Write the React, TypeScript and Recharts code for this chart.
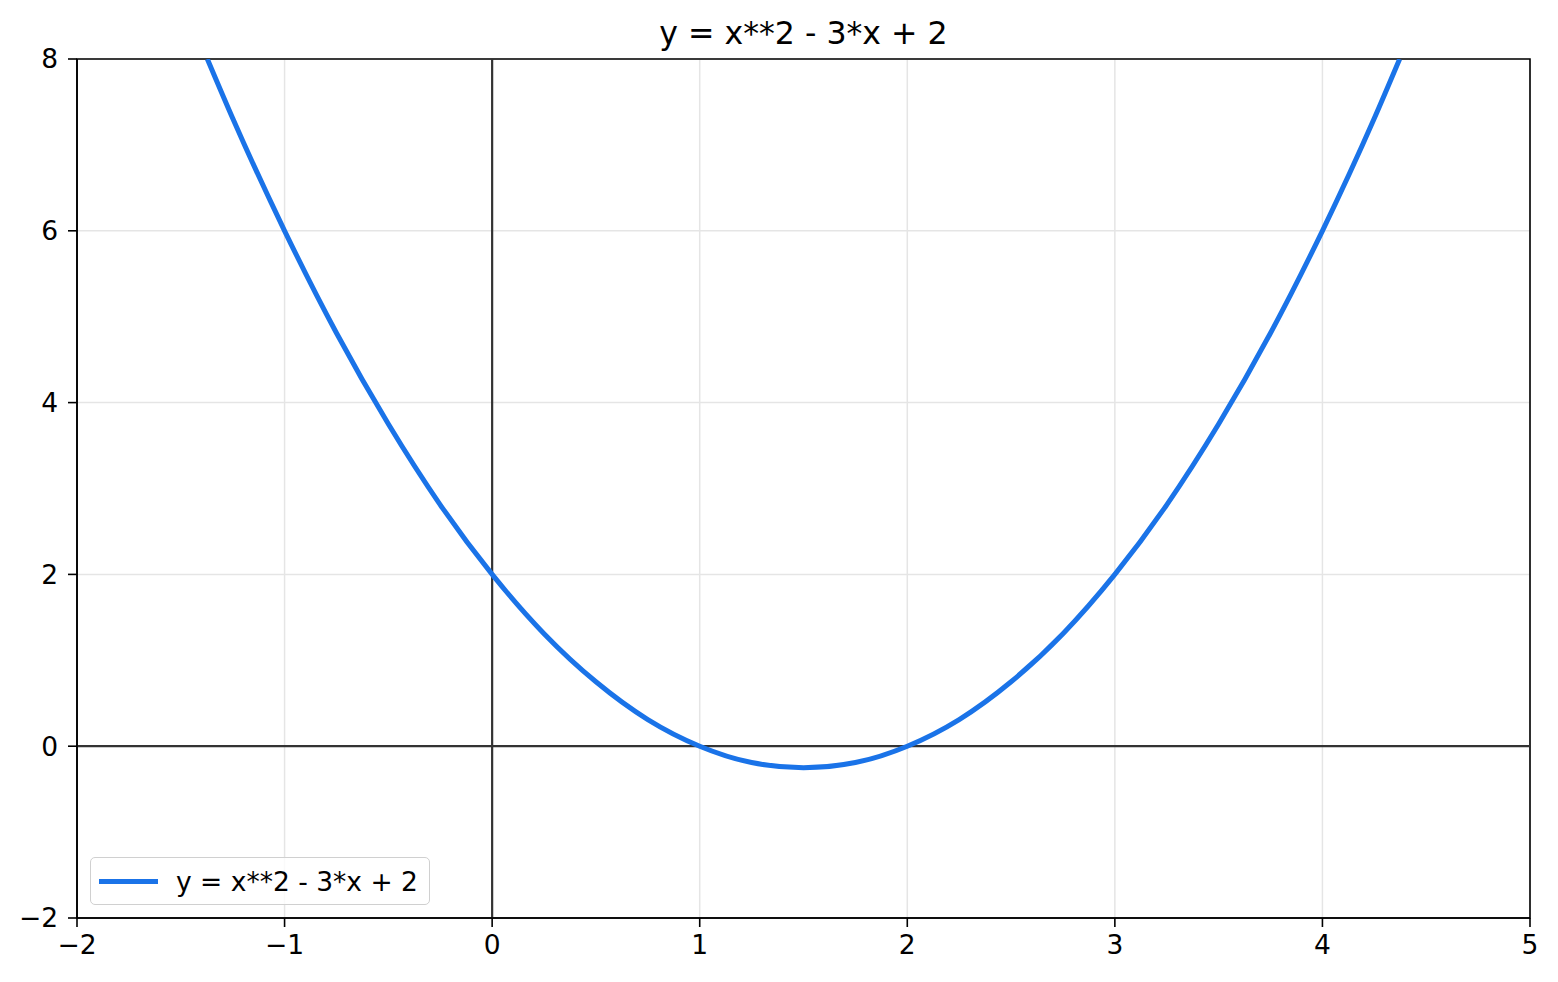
import {
  CartesianGrid,
  Legend,
  Line,
  LineChart,
  ReferenceArea,
  ReferenceLine,
  XAxis,
  YAxis,
} from "recharts";

const TITLE = "y = x**2 - 3*x + 2";

// points
const xs = [-1.372, -1.25, -1, -0.75, -0.5, -0.25, 0, 0.25, 0.5, 0.75, 1, 1.25, 1.5, 1.75, 2, 2.25, 2.5, 2.75, 3, 3.25, 3.5, 3.75, 4, 4.25, 4.372];
const ys = [8, 7.31, 6, 4.81, 3.75, 2.81, 2, 1.31, 0.75, 0.31, 0, -0.19, -0.25, -0.19, 0, 0.31, 0.75, 1.31, 2, 2.81, 3.75, 4.81, 6, 7.31, 8];

const xTicks = [-2, -1, 0, 1, 2, 3, 4, 5];
const yTicks = [-2, 0, 2, 4, 6, 8];

const data = xs.map((x, i) => ({ x, y: ys[i] }));

const FONT = "'DejaVu Sans', sans-serif";
const fmt = (v: number) => String(v).replace("-", "\u2212");

function LegendBox() {
  return (
    <div
      style={{
        width: 338,
        height: 46,
        border: "1.5px solid #d0d0d0",
        borderRadius: 5,
        background: "rgba(255,255,255,0.8)",
        display: "flex",
        alignItems: "center",
        fontFamily: FONT,
        fontSize: 26.5,
        color: "#000",
        boxSizing: "content-box",
      }}
    >
      <div style={{ width: 59, height: 5, background: "#1a73e8", marginLeft: 8, marginRight: 18 }} />
      <span>{TITLE}</span>
    </div>
  );
}

export default function App() {
  return (
    <div style={{ position: "relative", width: 1558, height: 982, background: "#fff" }}>
      <style>{`body{margin:0}`}</style>
      <div
        style={{
          position: "absolute",
          left: 77,
          width: 1453,
          top: 14,
          textAlign: "center",
          fontFamily: FONT,
          fontSize: 31.6,
          lineHeight: "38px",
          color: "#000",
        }}
      >
        {TITLE}
      </div>
      <LineChart width={1558} height={982} data={data} margin={{ top: 59, right: 28, bottom: 24, left: 17 }}>
        <CartesianGrid stroke="#e5e5e5" strokeWidth={1.5} />
        <XAxis
          type="number"
          dataKey="x"
          domain={[-2, 5]}
          ticks={xTicks}
          allowDataOverflow
          height={40}
          tickSize={9}
          tickMargin={8}
          tickFormatter={fmt}
          axisLine={{ stroke: "#000", strokeWidth: 1.6 }}
          tickLine={{ stroke: "#000", strokeWidth: 1.6 }}
          tick={{ fill: "#000", fontSize: 26.5, fontFamily: FONT }}
        />
        <YAxis
          type="number"
          dataKey="y"
          domain={[-2, 8]}
          ticks={yTicks}
          allowDataOverflow
          width={60}
          tickSize={9}
          tickMargin={10}
          tickFormatter={fmt}
          axisLine={{ stroke: "#000", strokeWidth: 1.6 }}
          tickLine={{ stroke: "#000", strokeWidth: 1.6 }}
          tick={{ fill: "#000", fontSize: 26.5, fontFamily: FONT }}
        />
        <ReferenceLine x={0} stroke="#333" strokeWidth={2.2} />
        <ReferenceLine y={0} stroke="#333" strokeWidth={2.2} />
        <Line
          type="monotone"
          dataKey="y"
          stroke="#1a73e8"
          strokeWidth={5}
          dot={false}
          isAnimationActive={false}
          name={TITLE}
        />
        <ReferenceArea x1={-2} x2={5} y1={-2} y2={8} fill="none" stroke="#000" strokeWidth={1.6} ifOverflow="visible" />
        <Legend
          layout="horizontal"
          verticalAlign="middle"
          align="center"
          content={<LegendBox />}
          wrapperStyle={{ position: "absolute", left: 90, top: 857, width: "auto", height: "auto" }}
        />
      </LineChart>
    </div>
  );
}
